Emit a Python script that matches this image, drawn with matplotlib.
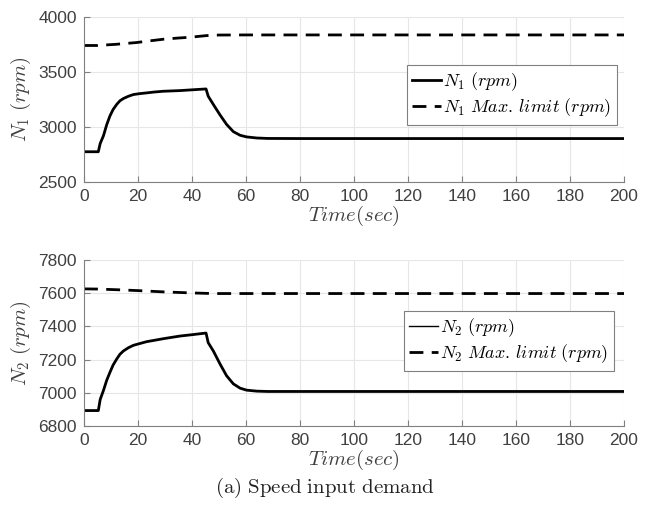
import numpy as np
import matplotlib.pyplot as plt
from matplotlib.lines import Line2D

plt.rcParams['mathtext.fontset'] = 'cm'
plt.rcParams['font.family'] = ['Liberation Sans', 'DejaVu Sans']

# N1 spool speed and its max limit
t1 = [0, 5.3, 6.0, 7.2, 8.4, 9.6, 10.8, 12.1, 13.3, 14.6, 16.5, 18.3, 20.5, 23.2, 26, 29.4, 32.5, 35.6, 40, 45.2,
      46.0, 47.9, 50.4, 52.8, 55.3, 57.8, 60.2, 64, 68, 80, 200]
n1 = [2775, 2775, 2850, 2920, 3020, 3100, 3160, 3205, 3238, 3259, 3280, 3295, 3303, 3310, 3318, 3325, 3328, 3331, 3338, 3346,
      3280, 3205, 3109, 3024, 2958, 2925, 2910, 2900, 2896, 2895, 2895]
t1m = [0, 5, 12, 19.5, 25, 29.4, 35, 39.3, 45.4, 50, 60, 200]
n1m = [3741, 3741, 3752, 3768, 3785, 3798, 3809, 3816, 3831, 3836, 3837, 3837]

# N2 spool speed and its max limit
t2 = [0, 5.3, 6.0, 7.2, 8.4, 9.6, 10.8, 12.1, 13.3, 14.6, 16.5, 18.3, 20.5, 23.2, 26, 29.4, 32.5, 35.6, 40, 45.2,
      46.0, 47.9, 50.4, 52.8, 55.3, 57.8, 60.2, 64, 68, 80, 200]
n2 = [6893, 6893, 6960, 7014, 7075, 7123, 7168, 7203, 7232, 7252, 7272, 7286, 7296, 7308, 7316, 7326, 7334, 7342, 7350, 7360,
      7302, 7252, 7173, 7103, 7054, 7028, 7016, 7010, 7008, 7008, 7008]
t2m = [0, 5, 12, 19.5, 29.4, 39.3, 45.4, 50, 200]
n2m = [7626, 7625, 7621, 7616, 7608, 7602, 7599, 7598, 7598]

gray = '#404040'
W, H = 649, 516

fig = plt.figure(figsize=(6.49, 5.16), dpi=100)
ax1 = fig.add_axes([84/W, 1 - 182/H, 540/W, 165/H])
ax2 = fig.add_axes([84/W, 1 - 426/H, 540/W, 166/H])


def style(ax, ylim, yticks):
    ax.set_xlim(0, 200)
    ax.set_ylim(*ylim)
    ax.set_xticks(range(0, 201, 20))
    ax.set_yticks(yticks)
    ax.grid(True, color='#e6e6e6', lw=0.8)
    ax.set_axisbelow(True)
    for s in ['top', 'right']:
        ax.spines[s].set_visible(False)
    for s in ['left', 'bottom']:
        ax.spines[s].set_color('#808080')
        ax.spines[s].set_linewidth(0.8)
    ax.tick_params(direction='in', length=4, color='#808080', labelcolor=gray, labelsize=12.5, pad=5)
    ax.set_xlabel(r'$Time(sec)$', fontsize=15, color=gray, labelpad=0)


def legend(ax, labels, thin_first, x, y):
    h = [Line2D([], [], color='k', lw=1 if thin_first else 2),
         Line2D([], [], color='k', lw=2, dashes=(5, 3))]
    leg = ax.legend(h, labels, loc='upper left', bbox_to_anchor=(x/W, 1 - y/H),
                    bbox_transform=fig.transFigure, fontsize=13,
                    fancybox=False, edgecolor='#808080', framealpha=1,
                    handlelength=1.6, handletextpad=0.1, borderpad=0.3,
                    labelspacing=0.2, borderaxespad=0)
    leg.get_frame().set_linewidth(0.8)


ax1.plot(t1, n1, 'k-', lw=2)
ax1.plot(t1m, n1m, 'k--', lw=2, dashes=(5, 3))
style(ax1, (2500, 4000), [2500, 3000, 3500, 4000])
ax1.set_ylabel(r'$N_1\ (rpm)$', fontsize=15, color=gray, labelpad=4)
legend(ax1, [r'$N_1\ (rpm)$', r'$N_1\ Max.\,limit\ (rpm)$'], False, 407, 65)

ax2.plot(t2, n2, 'k-', lw=2)
ax2.plot(t2m, n2m, 'k--', lw=2, dashes=(5, 3))
style(ax2, (6800, 7800), [6800, 7000, 7200, 7400, 7600, 7800])
ax2.set_ylabel(r'$N_2\ (rpm)$', fontsize=15, color=gray, labelpad=4)
legend(ax2, [r'$N_2\ (rpm)$', r'$N_2\ Max.\,limit\ (rpm)$'], True, 404, 311)

fig.text(0.5, 1 - 488/H, r'$\mathrm{(a)\ Speed\ input\ demand}$', ha='center', va='center',
         fontsize=15, color='#222222')

fig.savefig('out.png', dpi=100)
